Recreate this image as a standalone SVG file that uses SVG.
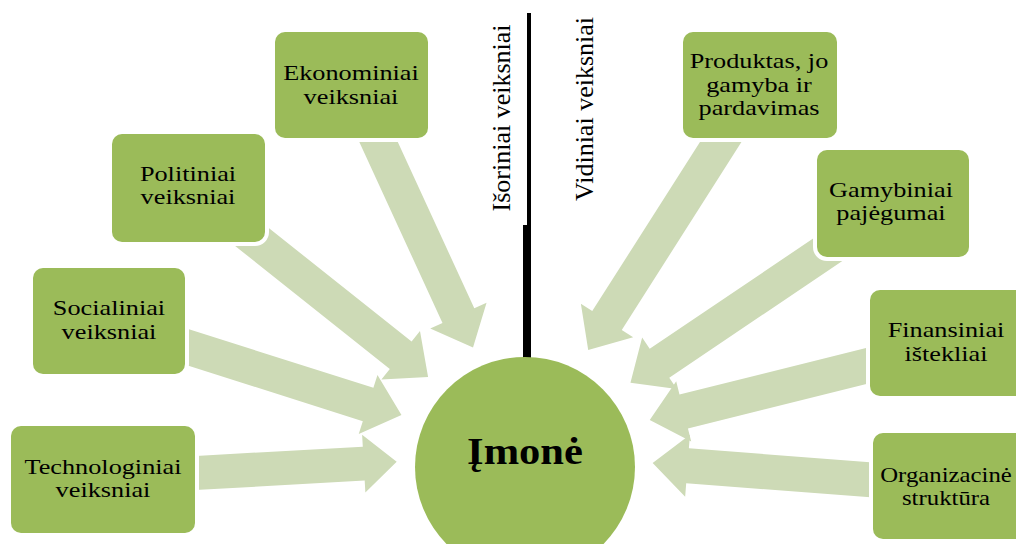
<svg xmlns="http://www.w3.org/2000/svg" width="1016" height="544" viewBox="0 0 1016 544">
<style>
.box{fill:#9BBB59;stroke:#fff;stroke-width:8;paint-order:stroke}
.arr{fill:#CDDAB6}
.lbl{font-family:"Liberation Serif","Times New Roman",serif;font-size:21px;fill:#000;text-anchor:middle}
.vlbl{font-family:"Liberation Serif","Times New Roman",serif;font-size:26px;fill:#000;text-anchor:middle}
.main{font-family:"Liberation Serif","Times New Roman",serif;font-size:38px;font-weight:bold;fill:#000;text-anchor:middle}
</style>
<rect width="1016" height="544" fill="#fff"/>
<g id="connectors">
<polygon class="arr" transform="translate(379,143) rotate(65.3)" points="-25,-17.5 190,-17.5 190,-31 225,0 190,31 190,17.5 -25,17.5"/>
<polygon class="arr" transform="translate(252,237) rotate(38.5)" points="-25,-17.5 190,-17.5 190,-31 225,0 190,31 190,17.5 -25,17.5"/>
<polygon class="arr" transform="translate(187,347) rotate(17.6)" points="-25,-17.5 190,-17.5 190,-31 225,0 190,31 190,17.5 -25,17.5"/>
<polygon class="arr" transform="translate(196,473) rotate(-3.2)" points="-25,-17 168,-17 168,-29 201,0 168,29 168,17 -25,17"/>
<polygon class="arr" transform="translate(722,140) rotate(122.5)" points="-25,-17.5 214,-17.5 214,-31 249,0 214,31 214,17.5 -25,17.5"/>
<polygon class="arr" transform="translate(817,257) rotate(146)" points="-25,-17.5 190,-17.5 190,-31 225,0 190,31 190,17.5 -25,17.5"/>
<polygon class="arr" transform="translate(870,365) rotate(166)" points="-25,-17.5 192,-17.5 192,-31 227,0 192,31 192,17.5 -25,17.5"/>
<polygon class="arr" transform="translate(873,480) rotate(184.4)" points="-25,-17.5 186,-17.5 186,-31 221,0 186,31 186,17.5 -25,17.5"/>
</g>
<g id="divider">
<rect x="527" y="13" width="4" height="212" fill="#000"/>
<rect x="523" y="225" width="8" height="137" fill="#000"/>
</g>
<g id="label-isoriniai">
<text class="vlbl" transform="translate(510,118) rotate(-90)">Išoriniai veiksniai</text>
</g>
<g id="label-vidiniai">
<text class="vlbl" transform="translate(593,109) rotate(-90)">Vidiniai veiksniai</text>
</g>
<g id="n-ekonominiai">
<rect class="box" x="275" y="32" width="153" height="106" rx="10"/>
<text class="lbl" transform="translate(351,0) scale(1.25,1)"><tspan x="0" y="80">Ekonominiai</tspan><tspan x="0" y="104">veiksniai</tspan></text>
</g>
<g id="n-politiniai">
<rect class="box" x="112" y="134" width="153" height="108" rx="10"/>
<text class="lbl" transform="translate(188,0) scale(1.25,1)"><tspan x="0" y="181">Politiniai</tspan><tspan x="0" y="204">veiksniai</tspan></text>
</g>
<g id="n-socialiniai">
<rect class="box" x="33" y="268" width="152" height="106" rx="10"/>
<text class="lbl" transform="translate(109,0) scale(1.25,1)"><tspan x="0" y="315">Socialiniai</tspan><tspan x="0" y="339">veiksniai</tspan></text>
</g>
<g id="n-technologiniai">
<rect class="box" x="11" y="426" width="184" height="107" rx="10"/>
<text class="lbl" transform="translate(103,0) scale(1.25,1)"><tspan x="0" y="474">Technologiniai</tspan><tspan x="0" y="497">veiksniai</tspan></text>
</g>
<g id="n-produktas">
<rect class="box" x="683" y="32" width="154" height="106" rx="10"/>
<text class="lbl" transform="translate(759,0) scale(1.25,1)"><tspan x="0" y="68">Produktas, jo</tspan><tspan x="0" y="92">gamyba ir</tspan><tspan x="0" y="115">pardavimas</tspan></text>
</g>
<g id="n-gamybiniai">
<rect class="box" x="817" y="150" width="152" height="107" rx="10"/>
<text class="lbl" transform="translate(891,0) scale(1.25,1)"><tspan x="0" y="197">Gamybiniai</tspan><tspan x="0" y="220">pajėgumai</tspan></text>
</g>
<g id="n-finansiniai">
<rect class="box" x="870" y="290" width="155" height="106" rx="10"/>
<text class="lbl" transform="translate(946,0) scale(1.25,1)"><tspan x="0" y="337">Finansiniai</tspan><tspan x="0" y="361">ištekliai</tspan></text>
</g>
<g id="n-organizacine">
<rect class="box" x="873" y="433" width="155" height="106" rx="10"/>
<text class="lbl" transform="translate(946,0) scale(1.18,1)"><tspan x="0" y="482">Organizacinė</tspan><tspan x="0" y="505">struktūra</tspan></text>
</g>
<g id="n-imone">
<circle cx="525" cy="467" r="110" fill="#9BBB59"/>
<text class="main" transform="translate(525,464) scale(1.12,1)">Įmonė</text>
</g>
</svg>
